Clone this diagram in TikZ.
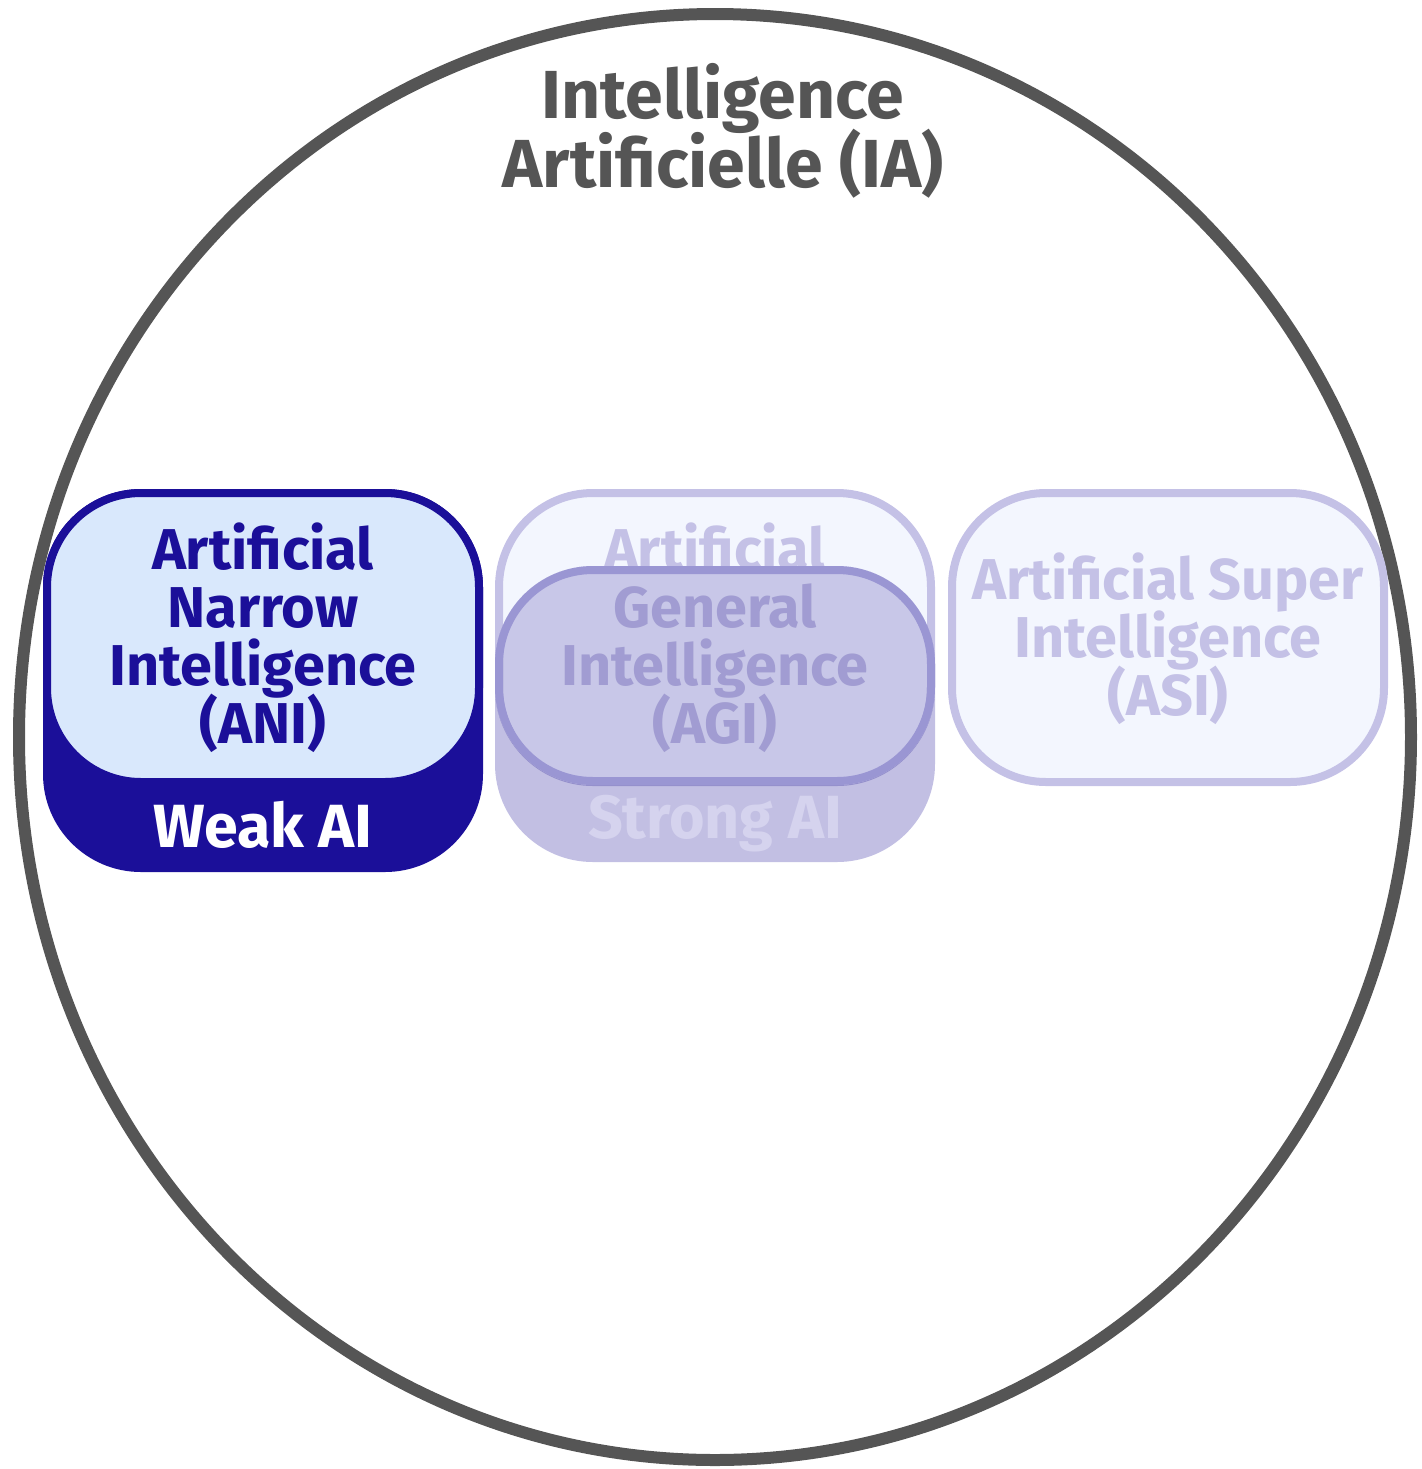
\documentclass[tikz,border=0pt]{standalone}
\usepackage{fontspec}
\setmainfont{Fira Sans}
\AtBeginDocument{\lineskiplimit=-30pt\relax}
\definecolor{ring}{HTML}{555555}
\definecolor{navy}{HTML}{1B0F99}
\definecolor{paleblue}{HTML}{D9E8FC}
\definecolor{lav}{HTML}{C4C1E6}
\definecolor{lavpale}{HTML}{F3F6FE}
\definecolor{lavmid}{HTML}{C2BFE3}
\definecolor{lavtint}{HTML}{D2CFE9}
\definecolor{lavedge}{HTML}{9A96D3}
\definecolor{lavtext}{HTML}{D5D3EE}
\begin{document}
\begin{tikzpicture}[x=0.5pt,y=-0.5pt,
  card/.style={line width=4pt,rounded corners=47pt},
  slab/.style={rounded corners=49pt},
  cardtext/.style={align=center,anchor=base,font=\bfseries\fontsize{28.8}{29}\selectfont},
  tagtext/.style={anchor=base,font=\bfseries\fontsize{30.5}{30.5}\selectfont}]
\useasboundingbox (0,0) rectangle (1422,1469);
\draw[ring,line width=6pt] (715,737) ellipse [x radius=696,y radius=723];
\node[align=center,anchor=base,text=ring,font=\bfseries\fontsize{34}{34.5}\selectfont] (ia) at (723,187) {Intelligence\\Artificielle (IA)};
% narrow
\fill[navy,slab] (43,489) rectangle (483,872);
\draw[card,navy,fill=paleblue] (47,493) rectangle (479,782);
\node[cardtext,text=navy] (ani) at (263,743) {Artificial\\Narrow\\Intelligence\\(ANI)};
\node[tagtext,text=white] (weak) at (263,847) {Weak AI};
% general
\draw[card,lav,fill=lavpale] (499,493) rectangle (931,782);
\node[cardtext,text=lav] (agi) at (715,743) {Artificial\\General\\Intelligence\\(AGI)};
\begin{scope}[blend mode=multiply]
\fill[lavmid,slab,even odd rule] (495,566) rectangle (935,862) (495,566) rectangle (935,785);
\fill[card,lavtint] (497,568) rectangle (933,783);
\end{scope}
\draw[card,lavedge] (499,570) rectangle (931,781);
\node[tagtext,text=lavtext] (strong) at (715,838) {Strong AI};
% super
\draw[card,lav,fill=lavpale] (952,493) rectangle (1384,782);
\node[cardtext,text=lav] (asi) at (1168,715) {Artificial Super\\Intelligence\\(ASI)};
\end{tikzpicture}
\end{document}
